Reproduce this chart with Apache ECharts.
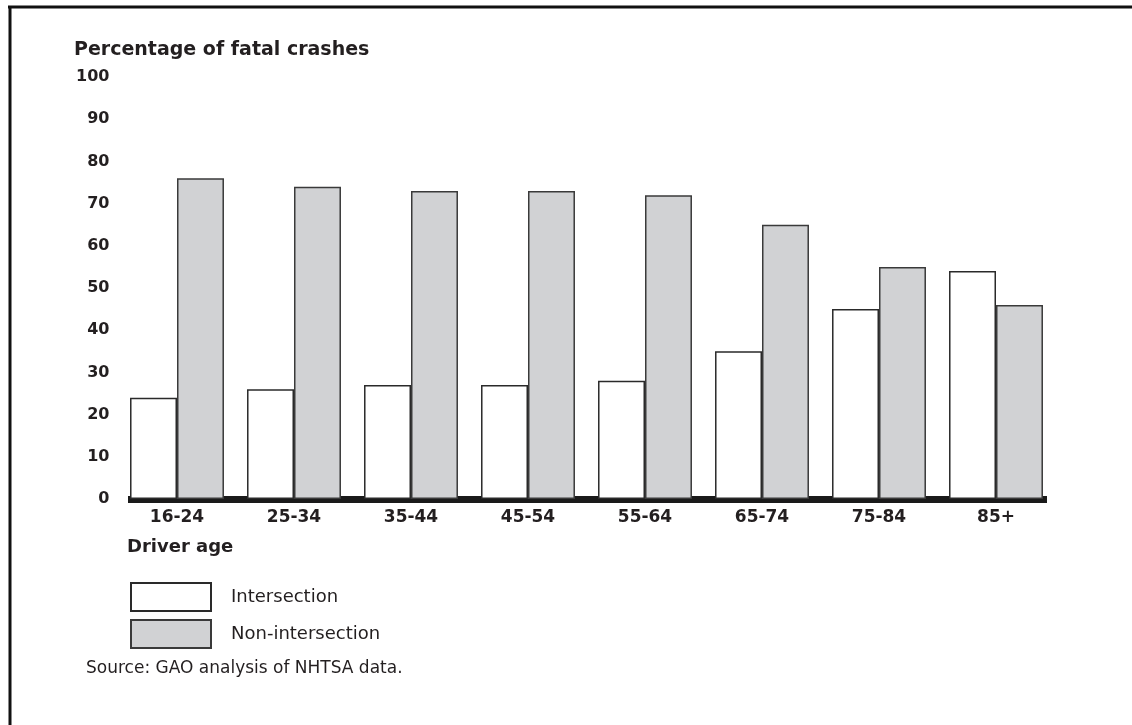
<!DOCTYPE html>
<html>
<head>
<meta charset="utf-8">
<script src="https://cdn.jsdelivr.net/npm/echarts@6/dist/echarts.min.js"></script>
<style>html,body{margin:0;padding:0;background:#fff}#c{width:1132px;height:725px}</style>
</head>
<body>
<div id="c"></div>
<script>
const categories = ['16-24','25-34','35-44','45-54','55-64','65-74','75-84','85+'];
const intersection = [24, 26, 27, 27, 28, 35, 45, 54];
const nonIntersection = [76, 74, 73, 73, 72, 65, 55, 46];
const yTicks = [0, 10, 20, 30, 40, 50, 60, 70, 80, 90, 100];

const chart = echarts.init(document.getElementById('c'));
const txt = '#231f20';
const font = 'DejaVu Sans';
chart.setOption({
  animation: false,
  backgroundColor: '#fff',
  title: [
    { text: 'Percentage of fatal crashes', left: 69, top: 36,
      textStyle: { fontFamily: font, fontSize: 19, fontWeight: 'bold', color: txt } },
    { text: 'Driver age', left: 122, top: 533,
      textStyle: { fontFamily: font, fontSize: 18, fontWeight: 'bold', color: txt } },
    { text: 'Source: GAO analysis of NHTSA data.', left: 81, top: 655,
      textStyle: { fontFamily: font, fontSize: 17, fontWeight: 'normal', color: txt } }
  ],
  legend: {
    orient: 'vertical', left: 125, top: 577,
    itemWidth: 80, itemHeight: 28, itemGap: 7,
    icon: 'rect',
    textStyle: { fontFamily: font, fontSize: 18, color: txt, padding: [0, 0, 0, 15] },
    data: ['Intersection', 'Non-intersection']
  },
  grid: [
    { left: 118.5, right: 77.5, top: 77, bottom: 226, containLabel: false },
    { left: 128, right: 85, top: 77, bottom: 226, containLabel: false }
  ],
  xAxis: [
    {
      type: 'category', data: categories, gridIndex: 0,
      axisLine: { show: false },
      axisTick: { show: false },
      axisLabel: { margin: 10, fontFamily: font, fontSize: 17, fontWeight: 'bold', color: txt }
    },
    {
      type: 'value', gridIndex: 1, min: 0, max: 1,
      axisLine: { show: true, onZero: false, lineStyle: { color: '#1a1a1a', width: 7, cap: 'butt' } },
      axisTick: { show: false }, axisLabel: { show: false }, splitLine: { show: false }
    }
  ],
  yAxis: [
    {
      type: 'value', gridIndex: 0, min: yTicks[0], max: yTicks[yTicks.length - 1], interval: 10,
      axisLine: { show: false }, axisTick: { show: false }, splitLine: { show: false },
      axisLabel: { margin: 9, fontFamily: font, fontSize: 16, fontWeight: 'bold', color: txt }
    },
    {
      type: 'value', gridIndex: 1, min: 0, max: 1, show: false
    }
  ],
  series: [
    { name: 'Intersection', type: 'bar', data: intersection, xAxisIndex: 0, yAxisIndex: 0,
      barGap: '0%', barCategoryGap: '19.7%', z: 1,
      itemStyle: { color: '#ffffff', borderColor: '#2a2a2a', borderWidth: 1.5 } },
    { name: 'Non-intersection', type: 'bar', data: nonIntersection, xAxisIndex: 0, yAxisIndex: 0,
      barGap: '0%', barCategoryGap: '19.7%', z: 1,
      itemStyle: { color: '#d1d2d4', borderColor: '#3a3a3a', borderWidth: 1.5 } }
  ],
  graphic: [
    { type: 'line', shape: { x1: 8, y1: 7, x2: 1132, y2: 7 }, style: { stroke: '#111', lineWidth: 3 } },
    { type: 'line', shape: { x1: 10, y1: 6, x2: 10, y2: 725 }, style: { stroke: '#111', lineWidth: 3 } }
  ]
});
</script>
</body>
</html>
